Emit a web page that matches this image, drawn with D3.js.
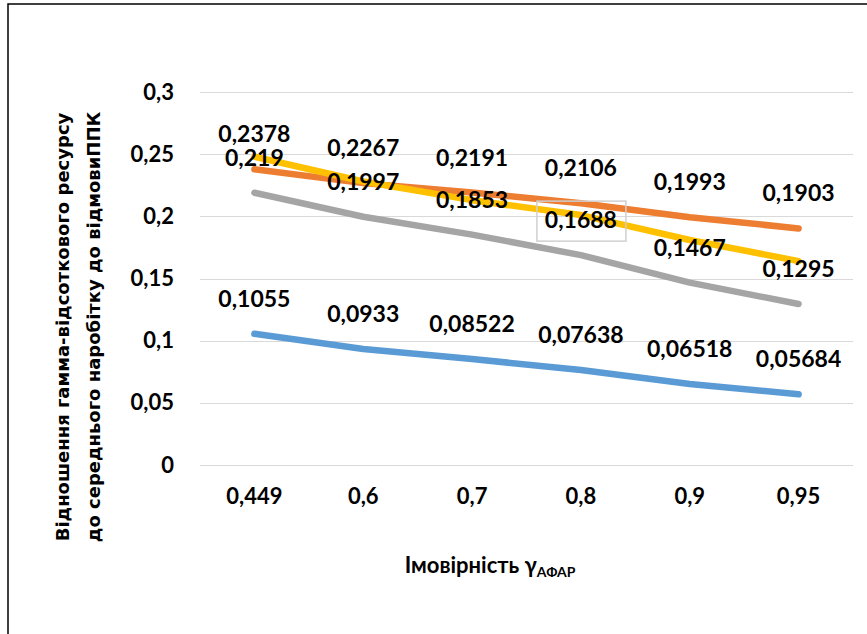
<!DOCTYPE html>
<html>
<head>
<meta charset="utf-8">
<script src="https://cdn.jsdelivr.net/npm/d3@7"></script>
<style>
  body { margin: 0; background: #ffffff; }
  svg { display: block; }
</style>
</head>
<body>
<div id="chart"></div>
<script>
// categories on the x axis (probability)
var categories = ["0,449", "0,6", "0,7", "0,8", "0,9", "0,95"];

// series values
var blueValues = [0.1055, 0.0933, 0.08522, 0.07638, 0.06518, 0.05684];
var orangeValues = [0.2378, 0.2267, 0.2191, 0.2106, 0.1993, 0.1903];
var grayValues = [0.219, 0.1997, 0.1853, 0.1688, 0.1467, 0.1295];
var yellowValues = [0.248, 0.228, 0.213, 0.201, 0.181, 0.164]; // no labels in the original

var yTicks = [0, 0.05, 0.1, 0.15, 0.2, 0.25, 0.3];

var yTitleLines = [
  "Відношення гамма-відсоткового ресурсу",
  "до середнього наробітку до відмовиППК"
];

var _width = 867,
  _height = 634;
var _plotL = 200,
  _plotR = 853,
  _plotT = 92,
  _plotB = 465;

var fmt = function (v) {
  return String(v).replace(".", ",");
};

var svg = d3
  .select("#chart")
  .append("svg")
  .attr("width", _width)
  .attr("height", _height);

svg.append("rect").attr("width", _width).attr("height", _height).attr("fill", "#ffffff");

// outer frame (only top & left visible in the crop)
svg
  .append("path")
  .attr("d", "M8," + _height + " L8,4 L" + _width + ",4")
  .attr("fill", "none")
  .attr("stroke", "#000000")
  .attr("stroke-width", 1.5);

var x = d3.scaleBand().domain(categories).range([_plotL, _plotR]);
var y = d3.scaleLinear().domain([0, 0.3]).range([_plotB, _plotT]);

// horizontal gridlines
svg
  .append("g")
  .selectAll("line")
  .data(yTicks)
  .enter()
  .append("line")
  .attr("x1", _plotL)
  .attr("x2", _plotR)
  .attr("y1", function (d) { return Math.round(y(d)) + 0.5; })
  .attr("y2", function (d) { return Math.round(y(d)) + 0.5; })
  .attr("stroke", "#d9d9d9")
  .attr("stroke-width", 1);

// y tick labels
var yAxis = d3
  .axisLeft(y)
  .tickValues(yTicks)
  .tickSize(0)
  .tickPadding(0)
  .tickFormat(fmt);

var yG = svg.append("g").attr("transform", "translate(174,0)").call(yAxis);
yG.select(".domain").remove();
yG
  .selectAll("text")
  .attr("font-family", "Lato, 'Open Sans', sans-serif")
  .attr("font-weight", "bold")
  .attr("font-size", 22)
  .attr("fill", "#000000");

// x tick labels
var xAxis = d3.axisBottom(x).tickSize(0).tickPadding(0);
var xG = svg.append("g").attr("transform", "translate(0,488)").call(xAxis);
xG.select(".domain").remove();
xG
  .selectAll("text")
  .attr("font-family", "Lato, 'Open Sans', sans-serif")
  .attr("font-weight", "bold")
  .attr("font-size", 22)
  .attr("fill", "#000000");

// lines
var line = d3
  .line()
  .x(function (d, i) { return x(categories[i]) + x.bandwidth() / 2; })
  .y(function (d) { return y(d); });

var series = [
  { values: blueValues, color: "#5b9bd5", labels: true },
  { values: orangeValues, color: "#ed7d31", labels: true },
  { values: grayValues, color: "#a5a5a5", labels: true },
  { values: yellowValues, color: "#ffc000", labels: false }
];

svg
  .append("g")
  .selectAll("path")
  .data(series)
  .enter()
  .append("path")
  .attr("d", function (d) { return line(d.values); })
  .attr("fill", "none")
  .attr("stroke", function (d) { return d.color; })
  .attr("stroke-width", 6.5)
  .attr("stroke-linecap", "round")
  .attr("stroke-linejoin", "round");

// selected-label box around 0,1688 (as in the screenshot)
var selIdx = 3;
svg
  .append("rect")
  .attr("x", x(categories[selIdx]) + x.bandwidth() / 2 - 44)
  .attr("y", y(grayValues[selIdx]) - 54)
  .attr("width", 89)
  .attr("height", 40)
  .attr("fill", "none")
  .attr("stroke", "#d0d0d0")
  .attr("stroke-width", 1.5);

// data labels, above each point
series.forEach(function (s) {
  if (!s.labels) return;
  svg
    .append("g")
    .selectAll("text")
    .data(s.values)
    .enter()
    .append("text")
    .attr("x", function (d, i) { return x(categories[i]) + x.bandwidth() / 2; })
    .attr("y", function (d) { return y(d) - 27; })
    .attr("text-anchor", "middle")
    .attr("font-family", "Lato, 'Open Sans', sans-serif")
    .attr("font-weight", "bold")
    .attr("font-size", 23)
    .attr("fill", "#000000")
    .text(fmt);
});

// x axis title
var xTitle = svg
  .append("text")
  .attr("x", 490)
  .attr("y", 573)
  .attr("text-anchor", "middle")
  .attr("font-family", "Lato, 'Open Sans', sans-serif")
  .attr("font-weight", "bold")
  .attr("font-size", 22)
  .attr("fill", "#000000");
xTitle.append("tspan").text("Імовірність γ");
xTitle.append("tspan").attr("font-size", 14).attr("dy", 4).text("АФАР");

// y axis title, two rotated lines
svg
  .append("g")
  .selectAll("text")
  .data(yTitleLines)
  .enter()
  .append("text")
  .attr("transform", function (d, i) {
    return "translate(" + (69 + i * 31) + ",327) rotate(-90)";
  })
  .attr("text-anchor", "middle")
  .attr("font-family", "'DejaVu Sans', sans-serif")
  .attr("font-weight", "bold")
  .attr("font-size", 18)
  .attr("fill", "#000000")
  .text(function (d) { return d; });
</script>
</body>
</html>
